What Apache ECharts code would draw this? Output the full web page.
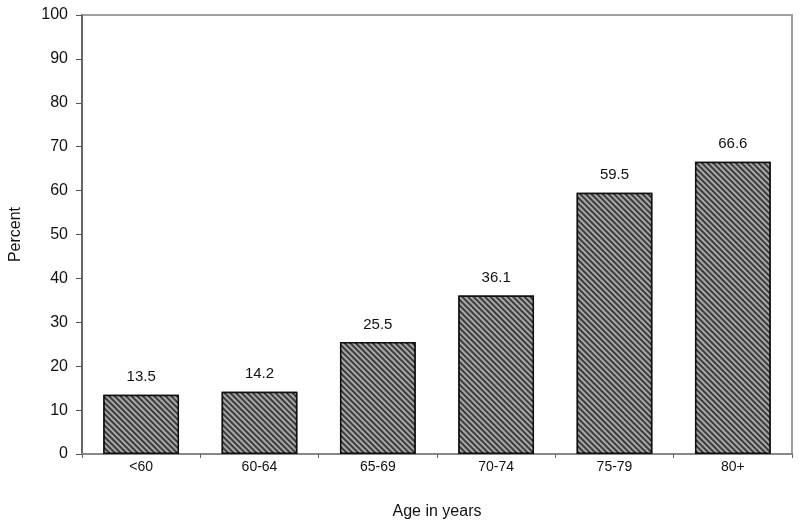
<!DOCTYPE html>
<html>
<head>
<meta charset="utf-8">
<script src="https://cdn.jsdelivr.net/npm/echarts@6/dist/echarts.min.js"></script>
<style>
  html, body { margin: 0; padding: 0; background: #fff; }
  #chart { width: 800px; height: 526px; }
</style>
</head>
<body>
<div id="chart"></div>
<script>
// age groups and percent values
const ageGroups = ['<60', '60-64', '65-69', '70-74', '75-79', '80+'];
const percentValues = [13.5, 14.2, 25.5, 36.1, 59.5, 66.6];
const yTicks = [0, 10, 20, 30, 40, 50, 60, 70, 80, 90, 100];

const myChart = echarts.init(document.getElementById('chart'), null, { renderer: 'canvas' });

const font = 'Liberation Sans, Arial, sans-serif';

const chartOption = {
  backgroundColor: '#ffffff',
  animation: false,
  grid: {
    left: 82, right: 8, top: 15, bottom: 72,
    outerBoundsMode: 'none',
    containLabel: false,
    show: true,
    borderColor: '#a0a0a0',
    borderWidth: 2
  },
  xAxis: {
    type: 'category',
    data: ageGroups,
    name: 'Age in years',
    nameLocation: 'middle',
    nameGap: 50,
    nameTextStyle: { fontFamily: font, fontSize: 16, color: '#111' },
    axisLine: { lineStyle: { color: '#888', width: 2 } },
    axisTick: { show: true, length: 4, lineStyle: { color: '#666' } },
    axisLabel: { fontFamily: font, fontSize: 14, color: '#111', margin: 6 }
  },
  yAxis: {
    type: 'value',
    min: yTicks[0],
    max: yTicks[yTicks.length - 1],
    interval: 10,
    name: 'Percent',
    nameLocation: 'middle',
    nameGap: 58,
    nameTextStyle: { fontFamily: font, fontSize: 16, color: '#111' },
    axisLine: { show: true, lineStyle: { color: '#555', width: 1.5 } },
    axisTick: { show: true, length: 6, lineStyle: { color: '#555' } },
    axisLabel: { fontFamily: font, fontSize: 16, color: '#111', margin: 14 },
    splitLine: { show: false }
  },
  series: [{
    type: 'bar',
    data: percentValues,
    barCategoryGap: '36%',
    itemStyle: {
      color: '#3c3c3c',
      borderColor: '#111',
      borderWidth: 1.5,
      decal: {
        symbol: 'rect',
        color: '#a8a8a8',
        dashArrayX: [1, 0],
        dashArrayY: [1.2, 1.8],
        rotation: Math.PI / 4
      }
    },
    label: {
      show: true,
      position: 'top',
      distance: 10,
      fontFamily: font,
      fontSize: 15,
      color: '#111',
      formatter: (p) => p.value.toFixed(1)
    }
  }],
  aria: { enabled: false, decal: { show: true } }
};

myChart.setOption(chartOption);
</script>
</body>
</html>
